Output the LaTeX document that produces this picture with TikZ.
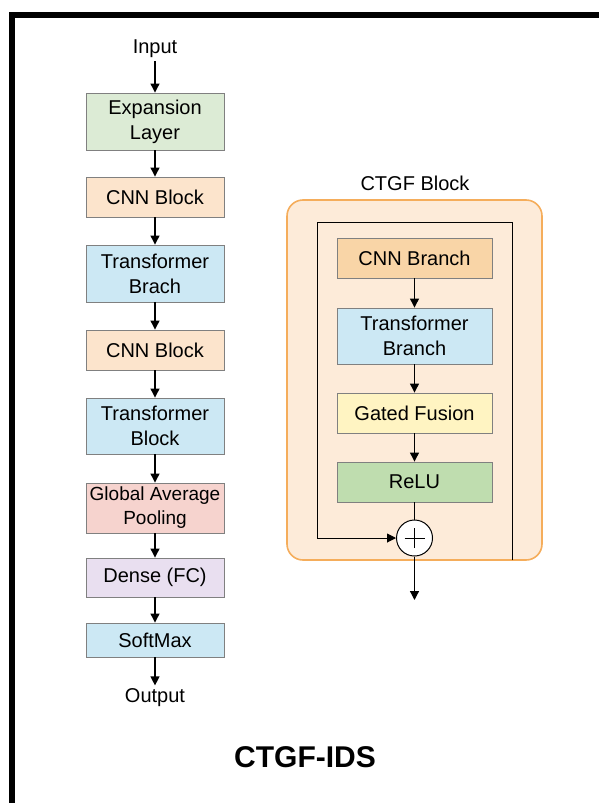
\documentclass[tikz,border=0pt]{standalone}
\usepackage{fontspec}
\setmainfont{Liberation Sans}
\usetikzlibrary{arrows.meta}
\definecolor{boxgray}{HTML}{808080}
\definecolor{cgreen}{HTML}{DCEBD5}
\definecolor{cpeach}{HTML}{FCE4CC}
\definecolor{cblue}{HTML}{CCE8F4}
\definecolor{cpink}{HTML}{F6D3CE}
\definecolor{clav}{HTML}{E9DFF0}
\definecolor{cbranch}{HTML}{F9D5A7}
\definecolor{cyellow}{HTML}{FFF4C2}
\definecolor{crelu}{HTML}{BFDDAF}
\definecolor{corange}{HTML}{F5AD5B}
\definecolor{cpanel}{HTML}{FDEBD9}
\begin{document}
\begin{tikzpicture}[x=1pt,y=-1pt,
  blk/.style={draw=boxgray, line width=0.9pt, minimum width=138pt, align=center,
              font=\fontsize{20}{25}\selectfont, inner sep=0pt},
  rblk/.style={blk, minimum width=155pt},
  lbl/.style={font=\fontsize{20}{25}\selectfont},
  arr/.style={-{Triangle[width=9pt,length=9pt]}, line width=1.2pt},
  thin/.style={line width=1pt}]
\useasboundingbox (0,0) rectangle (599,803);
\draw[line width=6pt] (12,803) -- (12,15) -- (599,15);

% left column
\node[lbl] (in) at (155,49) {Input};
\node[blk, fill=cgreen, minimum height=57pt] (exp) at (155,121.5) {Expansion\\Layer};
\node[blk, fill=cpeach, minimum height=40pt] (cnn1) at (155,197) {CNN Block};
\node[blk, fill=cblue, minimum height=57pt] (tb1) at (155,273.5) {Transformer\\Brach};
\node[blk, fill=cpeach, minimum height=40pt] (cnn2) at (155,350) {CNN Block};
\node[blk, fill=cblue, minimum height=56pt] (tb2) at (155,426) {Transformer\\Block};
\node[blk, fill=cpink, minimum height=50pt, font=\fontsize{19}{24}\selectfont] (gap) at (155,508) {Global Average\\Pooling};
\node[blk, fill=clav, minimum height=39pt] (dense) at (155,577.5) {Dense (FC)};
\node[blk, fill=cblue, minimum height=34pt] (sm) at (155,640) {SoftMax};
\node[lbl] (out) at (155,698) {Output};

\draw[arr] (in) -- (exp);
\draw[arr] (exp) -- (cnn1);
\draw[arr] (cnn1) -- (tb1);
\draw[arr] (tb1) -- (cnn2);
\draw[arr] (cnn2) -- (tb2);
\draw[arr] (tb2) -- (gap);
\draw[arr] (gap) -- (dense);
\draw[arr] (dense) -- (sm);
\draw[arr] (sm) -- (out);

% right block
\node[lbl] (ctgft) at (415,183) {CTGF Block};
\node[draw=corange, fill=cpanel, line width=1.6pt, rounded corners=16pt,
      minimum width=255pt, minimum height=360pt, inner sep=0pt] (panel) at (414.5,380) {};
\node[rblk, fill=cbranch, minimum height=40pt] (cnnb) at (414.5,258) {CNN Branch};
\node[rblk, fill=cblue, minimum height=56pt] (trb) at (414.5,336) {Transformer\\Branch};
\node[rblk, fill=cyellow, minimum height=40pt] (gf) at (414.5,413) {Gated Fusion};
\node[rblk, fill=crelu, minimum height=40pt] (relu) at (414.5,482) {ReLU};
\node[circle, draw, thin, fill=white, minimum size=36pt, inner sep=0pt] (plus) at (414.5,538) {};
\draw[line width=0.8pt] ([xshift=-10pt]plus.center) -- ([xshift=10pt]plus.center)
      ([yshift=-10pt]plus.center) -- ([yshift=10pt]plus.center);

\draw[arr] (cnnb) -- (trb);
\draw[arr] (trb) -- (gf);
\draw[arr] (gf) -- (relu);
\draw[thin] (relu) -- (plus);
\coordinate (loopstart) at (512,560);
\draw[thin, -{Triangle[width=9pt,length=9pt]}] (loopstart) -- (512,222) -- (317,222) |- (plus.west);
\coordinate (blockout) at (414.5,600);
\draw[arr] (plus) -- (blockout);

\node[font=\bfseries\fontsize{30}{32}\selectfont] (title) at (305,757) {CTGF-IDS};
\end{tikzpicture}
\end{document}
